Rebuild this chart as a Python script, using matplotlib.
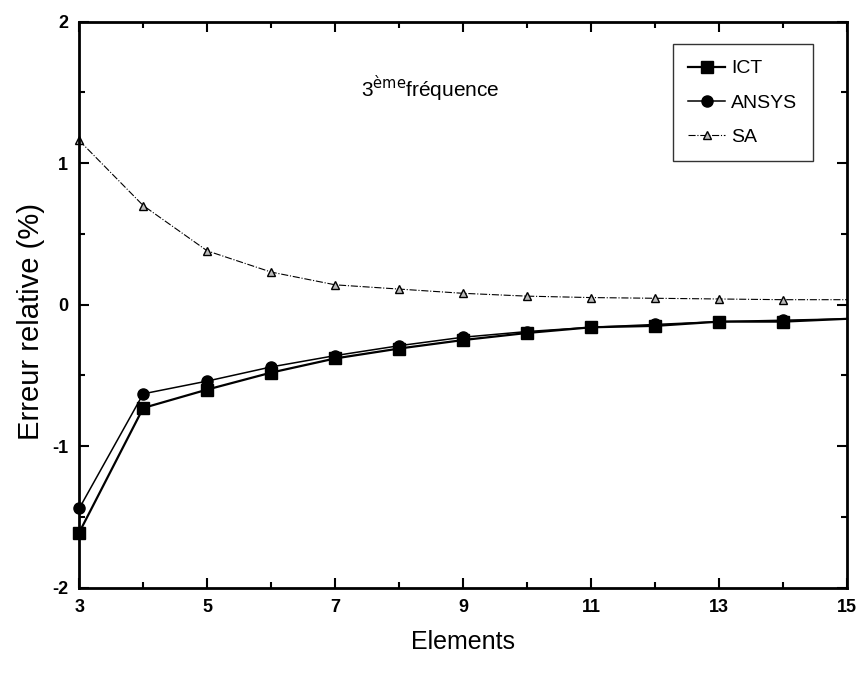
import numpy as np
import matplotlib
matplotlib.use("Agg")
import matplotlib.pyplot as plt
from matplotlib.ticker import MultipleLocator, FixedLocator
from matplotlib.legend_handler import HandlerLine2D

plt.rcParams['font.family'] = ['Liberation Sans', 'DejaVu Sans']
plt.rcParams['axes.unicode_minus'] = False

# nombre d'elements
elements = [3, 4, 5, 6, 7, 8, 9, 10, 11, 12, 13, 14, 15]
# erreur relative (%) - 3eme frequence
ict = [-1.61, -0.73, -0.60, -0.48, -0.38, -0.31, -0.25, -0.20, -0.16, -0.15, -0.12, -0.12, -0.10]
ansys = [-1.44, -0.63, -0.54, -0.44, -0.36, -0.29, -0.23, -0.19, -0.16, -0.14, -0.12, -0.11, -0.10]
sa = [1.16, 0.70, 0.38, 0.23, 0.14, 0.11, 0.08, 0.06, 0.05, 0.045, 0.04, 0.035, 0.035]
xticks = [3, 5, 7, 9, 11, 13, 15]


class MarkerLeft(HandlerLine2D):
    # marqueur a gauche du trait dans la legende
    def get_xdata(self, legend, xdescent, ydescent, width, height, fontsize):
        xdata, _ = super().get_xdata(legend, xdescent, ydescent, width, height, fontsize)
        return xdata, np.array([xdata[0] + 0.12 * width])


fig = plt.figure(figsize=(8.61, 6.74), dpi=100)
ax = fig.add_axes([0.092, 0.128, 0.892, 0.84])

mk = list(range(len(elements) - 1))  # pas de marqueur au bord droit
ax.plot(elements, ict, color='black', lw=1.6, marker='s', ms=8, markevery=mk, label='ICT', clip_on=False)
ax.plot(elements, ansys, color='black', lw=1.1, marker='o', ms=8, markevery=mk, label='ANSYS', clip_on=False)
ax.plot(elements, sa, color='black', lw=0.8, ls='-.', marker='^', ms=6, mfc='#bbbbbb', mec='black',
        markevery=mk, label='SA', clip_on=False)

ax.set_xlim(3, 15)
ax.set_ylim(-2, 2)
ax.xaxis.set_major_locator(FixedLocator(xticks))
ax.xaxis.set_minor_locator(MultipleLocator(1))
ax.yaxis.set_major_locator(MultipleLocator(1))
ax.yaxis.set_minor_locator(MultipleLocator(0.5))
ax.tick_params(which='both', direction='in', top=True, right=True, width=1.5)
ax.tick_params(which='major', length=7, labelsize=13, pad=8)
ax.tick_params(which='minor', length=4)
for lbl in ax.get_xticklabels() + ax.get_yticklabels():
    lbl.set_fontweight('bold')
for sp in ax.spines.values():
    sp.set_linewidth(2)

ax.set_xlabel('Elements', fontsize=18, labelpad=10)
ax.set_ylabel('Erreur relative (%)', fontsize=21)
ax.yaxis.set_label_coords(-0.045, 0.47)

ax.text(7.4, 1.53, r'3$^{\mathrm{ème}}$fréquence', fontsize=15, va='center')

leg = ax.legend(loc='upper right', bbox_to_anchor=(0.955, 0.96), fontsize=14, frameon=True,
                fancybox=False, edgecolor='black', handlelength=1.9, handletextpad=0.3,
                borderpad=0.8, labelspacing=0.85, borderaxespad=0,
                handler_map={plt.Line2D: MarkerLeft(numpoints=1)})
leg.get_frame().set_linewidth(1.0)

fig.savefig('out.png', dpi=100)
